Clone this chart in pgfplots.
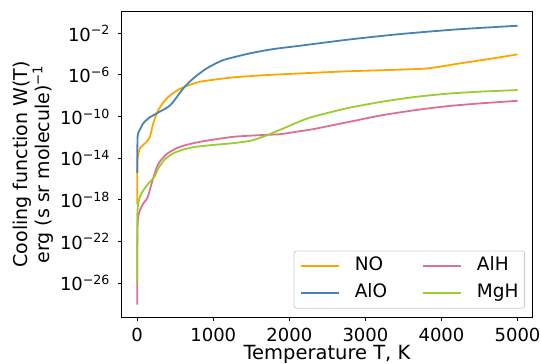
\documentclass[border=0pt]{standalone}
\usepackage{fontspec}
\setmainfont{DejaVu Sans}
\usepackage{pgfplots}
\usepackage{pgfplotstable}
\pgfplotsset{compat=1.18}
\definecolor{cNO}{HTML}{FFA500}
\definecolor{cAlO}{HTML}{4682B4}
\definecolor{cAlH}{HTML}{DB7093}
\definecolor{cMgH}{HTML}{9ACD32}
\definecolor{legframe}{HTML}{CCCCCC}

\pgfplotstableread{
T e
0 -18.44
2 -15.2
6 -14.0
35 -13.06
123 -12.42
167 -11.94
211 -10.65
276 -9.38
387 -8.25
518 -7.52
605 -7.19
825 -6.65
1263 -6.23
1703 -6.01
2141 -5.85
2755 -5.65
3325 -5.52
3764 -5.40
3983 -5.20
4203 -4.93
4641 -4.45
5000 -4.02
}\tNO

\pgfplotstableread{
T e
0 -15.4
1 -13.5
4 -12.2
13 -11.6
79 -10.65
160 -10.1
255 -9.69
408 -9.06
474 -8.58
605 -7.29
737 -6.33
913 -5.37
1132 -4.57
1483 -3.92
1789 -3.51
2141 -3.19
2799 -2.58
3457 -2.07
4203 -1.62
5000 -1.27
}\tAlO

\pgfplotstableread{
T e
0 -28.06
0.5 -26.0
1.5 -22.5
5 -20.5
13 -19.6
35 -19.0
79 -18.35
123 -17.95
145 -17.6
167 -17.0
211 -15.9
255 -14.9
299 -14.3
387 -13.6
500 -13.1
605 -12.8
825 -12.42
1263 -11.94
1703 -11.75
1875 -11.69
2141 -11.40
2316 -11.20
2755 -10.55
3193 -9.90
3632 -9.40
4071 -9.00
4509 -8.73
5000 -8.48
}\tAlH

\pgfplotstableread{
T e
0 -26.04
0.5 -22.5
1.5 -19.6
5 -18.9
13 -18.4
35 -17.7
79 -17.1
145 -16.45
189 -16.1
233 -15.7
276 -15.0
364 -14.1
496 -13.45
716 -12.96
1000 -12.72
1263 -12.55
1500 -12.3
1703 -11.8
1900 -11.2
2141 -10.45
2316 -10.0
2755 -9.2
3193 -8.6
3632 -8.13
4071 -7.8
4509 -7.6
5000 -7.45
}\tMgH

\begin{document}
\fontsize{18bp}{21bp}\selectfont
\begin{tikzpicture}
\useasboundingbox (-122bp,-47bp) rectangle (419bp,317bp);
\begin{axis}[
  scale only axis, width=410bp, height=305.3bp,
  at={(0,0)}, anchor=south west,
  ymode=log,
  xmin=-200, xmax=5190,
  ymin=5.6e-30, ymax=1.2,
  axis line style={black, line width=1bp},
  tick style={black, line width=1bp},
  tick align=outside, major tick length=3.5bp,
  xtick pos=bottom, ytick pos=left,
  yminorticks=false, xminorticks=false,
  xtick={0,1000,2000,3000,4000,5000},
  xticklabels={0,1000,2000,3000,4000,5000},
  ytick={1e-26,1e-22,1e-18,1e-14,1e-10,1e-6,1e-2},
  yticklabels={10\textsuperscript{−26},10\textsuperscript{−22},10\textsuperscript{−18},10\textsuperscript{−14},10\textsuperscript{−10},10\textsuperscript{−6},10\textsuperscript{−2}},
  every tick label/.append style={font=\fontsize{18bp}{21bp}\selectfont},
  x tick label style={anchor=base, inner sep=0pt, yshift=-20.5bp},
  y tick label style={anchor=east, inner sep=0pt, xshift=-8.3bp},
  xlabel={Temperature T, K},
  xlabel style={at={(axis description cs:0.5,0)}, anchor=base, inner sep=0pt, yshift=-42bp, font=\fontsize{19.5bp}{23bp}\selectfont},
  ylabel={Cooling function W(T)\\erg (s sr molecule)\textsuperscript{−1}},
  ylabel style={at={(axis description cs:-0.1659,0.5)}, anchor=south, align=center, inner sep=0pt, font=\fontsize{19bp}{20bp}\selectfont},
  legend columns=2, transpose legend,
  legend cell align=left,
  legend image code/.code={\draw[#1, line width=1.8bp] (0bp,0bp) -- (38bp,0bp);},
  legend style={at={(axis description cs:1,0)}, anchor=south east, xshift=-7bp, yshift=8.4bp,
    draw=legframe, line width=0.8bp, rounded corners=2.5bp, fill=white, fill opacity=0.8, text opacity=1,
    inner xsep=6bp, inner ysep=6bp,
    font=\fontsize{18.5bp}{21bp}\selectfont,
    nodes={inner sep=0pt, text height=13.4bp, text depth=4.4bp},
    row sep=9.6bp,
    /tikz/every odd column/.append style={column sep=15bp},
    /tikz/every even column/.append style={column sep=35bp}},
]
\addplot[cNO, line width=1.8bp, smooth, tension=0.4] table[x=T, y expr=10^(\thisrow{e})] {\tNO};
\addlegendentry{NO}
\addplot[cAlO, line width=1.8bp, smooth, tension=0.4] table[x=T, y expr=10^(\thisrow{e})] {\tAlO};
\addlegendentry{AlO}
\addplot[cAlH, line width=1.8bp, smooth, tension=0.4] table[x=T, y expr=10^(\thisrow{e})] {\tAlH};
\addlegendentry{AlH}
\addplot[cMgH, line width=1.8bp, smooth, tension=0.4] table[x=T, y expr=10^(\thisrow{e})] {\tMgH};
\addlegendentry{MgH}
\end{axis}
\end{tikzpicture}
\end{document}
